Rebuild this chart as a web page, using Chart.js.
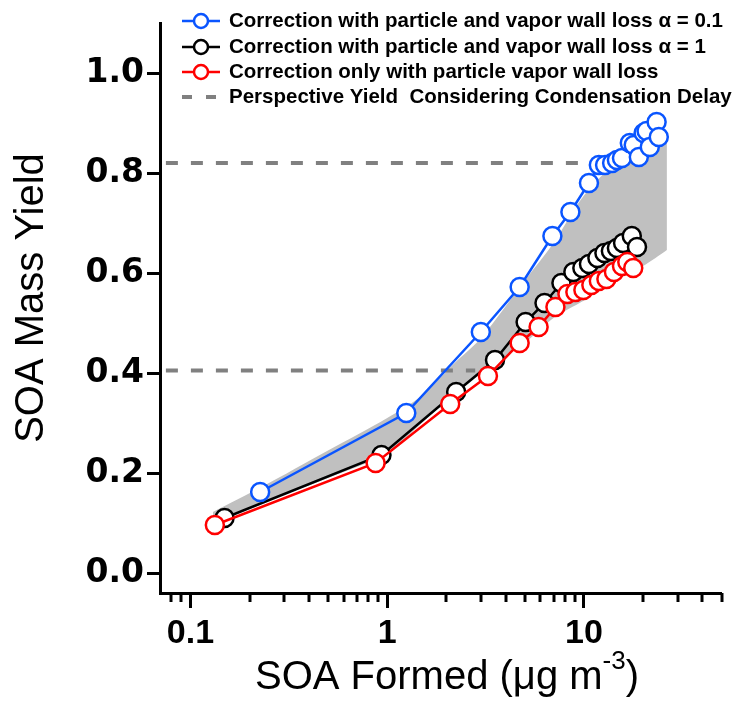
<!DOCTYPE html>
<html>
<head>
<meta charset="utf-8">
<script src="https://cdn.jsdelivr.net/npm/chart.js@4.4.0/dist/chart.umd.min.js"></script>
<style>
  html, body { margin: 0; padding: 0; background: #fff; }
  #wrap { width: 733px; height: 715px; }
</style>
</head>
<body>
<div id="wrap"><canvas id="soaChart" width="733" height="715"></canvas></div>
<script>
// values (x = SOA formed, y = mass yield)
const blueX = [0.226, 1.25, 2.99, 4.71, 6.91, 8.53, 10.6, 11.9, 12.8, 13.9, 14.7, 15.6, 17.1, 17.9, 19.0, 20.1, 20.8, 21.6, 23.4, 24.0];
const blueY = [0.162, 0.32, 0.482, 0.572, 0.674, 0.722, 0.78, 0.816, 0.816, 0.82, 0.826, 0.83, 0.86, 0.856, 0.832, 0.88, 0.884, 0.852, 0.902, 0.872];

const blackX = [0.149, 0.935, 2.24, 3.53, 5.05, 6.30, 7.68, 8.83, 9.81, 10.6, 11.7, 12.7, 13.7, 14.7, 15.8, 17.5, 18.6];
const blackY = [0.11, 0.236, 0.362, 0.426, 0.502, 0.54, 0.58, 0.602, 0.61, 0.618, 0.63, 0.64, 0.644, 0.65, 0.66, 0.674, 0.652];

const redX = [0.133, 0.873, 2.09, 3.25, 4.71, 5.88, 7.16, 8.24, 9.04, 9.93, 10.9, 11.9, 13.0, 14.2, 15.6, 16.6, 17.8];
const redY = [0.096, 0.22, 0.338, 0.394, 0.46, 0.492, 0.532, 0.558, 0.562, 0.566, 0.576, 0.584, 0.588, 0.602, 0.614, 0.622, 0.61];

// grey range band
const bandX     = [0.13, 0.23, 0.5, 1.0, 1.5, 2.2, 3.0, 5.0, 7.0, 10, 15, 20, 26.4];
const bandUpper = [0.122, 0.172, 0.245, 0.31, 0.355, 0.42, 0.47, 0.585, 0.66, 0.755, 0.825, 0.85, 0.866];
const bandLower = [0.105, 0.14, 0.19, 0.24, 0.30, 0.36, 0.40, 0.46, 0.51, 0.545, 0.59, 0.614, 0.646];

// perspective yield lines
const dashHighX = [0.075, 13];
const dashHighY = 0.82;
const dashLowX = [0.075, 2.8];
const dashLowY = 0.405;

const xMajorTicks = [0.1, 1, 10];
const xMinorTicks = [0.08, 0.09, 0.2, 0.3, 0.4, 0.5, 0.6, 0.7, 0.8, 0.9, 2, 3, 4, 5, 6, 7, 8, 9, 20, 30, 40, 50];
const yTicks = [0, 0.2, 0.4, 0.6, 0.8, 1.0];

const legendLabels = [
    'Correction with particle and vapor wall loss \u03b1 = 0.1',
    'Correction with particle and vapor wall loss \u03b1 = 1',
    'Correction only with particle vapor wall loss',
    'Perspective Yield  Considering Condensation Delay'
];

const BLUE = '#0a55ff';
const RED = '#ff0000';
const BLACK = '#000000';
const GREY = '#808080';
const FONT = '"Liberation Sans", Arial, sans-serif';
const WIDE = '"DejaVu Sans", sans-serif';

const pts = (xs, ys) => xs.map((x, i) => ({ x: x, y: Array.isArray(ys) ? ys[i] : ys }));

const seriesStyle = (color, order) => ({
    borderColor: color,
    borderWidth: 2.5,
    pointRadius: 9,
    pointBorderWidth: 2.5,
    pointBackgroundColor: '#ffffff',
    pointBorderColor: color,
    pointHoverRadius: 9,
    fill: false,
    order: order
});

// minor ticks on the log axis + titles + legend
const decorPlugin = {
    id: 'decor',
    afterDraw(chart) {
        const ctx = chart.ctx;
        const xs = chart.scales.x;
        const area = chart.chartArea;

        ctx.save();
        ctx.strokeStyle = '#000';
        ctx.lineWidth = 3;
        xMinorTicks.forEach(v => {
            const px = Math.round(xs.getPixelForValue(v));
            ctx.beginPath();
            ctx.moveTo(px, area.bottom);
            ctx.lineTo(px, area.bottom + 9);
            ctx.stroke();
        });

        // y title
        ctx.fillStyle = '#000';
        ctx.font = '40px ' + FONT;
        ctx.textAlign = 'center';
        ctx.textBaseline = 'middle';
        ctx.save();
        ctx.translate(32, 298);
        ctx.rotate(-Math.PI / 2);
        ctx.fillText('SOA Mass Yield', 0, 0);
        ctx.restore();

        // x title with superscript
        const main = 'SOA Formed (\u03bcg m';
        const sup = '-3';
        const tail = ')';
        ctx.textAlign = 'left';
        ctx.textBaseline = 'alphabetic';
        ctx.font = '40px ' + FONT;
        const wMain = ctx.measureText(main).width;
        const wTail = ctx.measureText(tail).width;
        ctx.font = '26px ' + FONT;
        const wSup = ctx.measureText(sup).width;
        let x0 = 447 - (wMain + wSup + wTail) / 2;
        const base = 689;
        ctx.font = '40px ' + FONT;
        ctx.fillText(main, x0, base);
        ctx.font = '26px ' + FONT;
        ctx.fillText(sup, x0 + wMain, base - 20);
        ctx.font = '40px ' + FONT;
        ctx.fillText(tail, x0 + wMain + wSup, base);

        // legend
        const rows = [21, 47, 72, 97];
        const colors = [BLUE, BLACK, RED];
        ctx.font = 'bold 20.5px ' + FONT;
        ctx.textBaseline = 'middle';
        rows.forEach((ry, i) => {
            if (i < 3) {
                ctx.strokeStyle = colors[i];
                ctx.lineWidth = 2.5;
                ctx.beginPath();
                ctx.moveTo(182, ry);
                ctx.lineTo(220, ry);
                ctx.stroke();
                ctx.fillStyle = '#fff';
                ctx.beginPath();
                ctx.arc(201, ry, 7, 0, Math.PI * 2);
                ctx.fill();
                ctx.stroke();
            } else {
                ctx.strokeStyle = GREY;
                ctx.lineWidth = 4;
                ctx.setLineDash([10, 14]);
                ctx.beginPath();
                ctx.moveTo(182, ry);
                ctx.lineTo(218, ry);
                ctx.stroke();
                ctx.setLineDash([]);
            }
            ctx.fillStyle = '#000';
            ctx.fillText(legendLabels[i], 229, ry);
        });
        ctx.restore();
    }
};

new Chart(document.getElementById('soaChart'), {
    type: 'line',
    data: {
        datasets: [
            Object.assign({ label: legendLabels[2], data: pts(redX, redY) }, seriesStyle(RED, 1)),
            Object.assign({ label: legendLabels[0], data: pts(blueX, blueY) }, seriesStyle(BLUE, 2)),
            Object.assign({ label: legendLabels[1], data: pts(blackX, blackY) }, seriesStyle(BLACK, 3)),
            {
                label: 'high', data: pts(dashHighX, dashHighY),
                borderColor: GREY, borderWidth: 4, borderDash: [12, 13],
                pointRadius: 0, fill: false, order: 4
            },
            {
                label: 'low', data: pts(dashLowX, dashLowY),
                borderColor: GREY, borderWidth: 4, borderDash: [12, 13],
                pointRadius: 0, fill: false, order: 4
            },
            {
                label: 'band upper', data: pts(bandX, bandUpper),
                borderWidth: 0, borderColor: 'rgba(0,0,0,0)', backgroundColor: '#c0c0c0',
                pointRadius: 0, tension: 0.3, fill: '+1', order: 6
            },
            {
                label: 'band lower', data: pts(bandX, bandLower),
                borderWidth: 0, borderColor: 'rgba(0,0,0,0)',
                pointRadius: 0, tension: 0.3, fill: false, order: 6
            }
        ]
    },
    options: {
        responsive: false,
        animation: false,
        devicePixelRatio: 1,
        layout: { padding: { top: 23, right: 9, left: 0, bottom: 0 } },
        plugins: {
            legend: { display: false },
            tooltip: { enabled: false },
            filler: { propagate: false }
        },
        scales: {
            x: {
                type: 'logarithmic',
                min: 0.07,
                max: 50,
                border: { width: 3, color: '#000' },
                grid: {
                    drawOnChartArea: false,
                    tickLength: 15,
                    tickWidth: 3,
                    tickColor: (c) => (c.tick && xMajorTicks.includes(c.tick.value)) ? '#000' : 'rgba(0,0,0,0)'
                },
                ticks: {
                    autoSkip: false,
                    maxRotation: 0,
                    color: '#000',
                    padding: 5,
                    font: { family: FONT, weight: 'bold', size: 34 },
                    callback: (v) => xMajorTicks.includes(v) ? String(v) : ''
                },
                afterBuildTicks: (s) => {
                    s.ticks = xMajorTicks.concat(xMinorTicks).sort((a, b) => a - b).map(v => ({ value: v }));
                },
                afterFit: (s) => { s.height = 122; }
            },
            y: {
                min: -0.04,
                max: 1.1,
                border: { width: 3, color: '#000' },
                grid: { drawOnChartArea: false, tickLength: 13, tickWidth: 3, tickColor: '#000' },
                ticks: {
                    color: '#000',
                    padding: 3,
                    font: { family: WIDE, weight: 'bold', size: 33 },
                    callback: (v) => v.toFixed(1)
                },
                afterBuildTicks: (s) => { s.ticks = yTicks.map(v => ({ value: v })); },
                afterFit: (s) => { s.width = 160; }
            }
        }
    },
    plugins: [decorPlugin]
});
</script>
</body>
</html>
